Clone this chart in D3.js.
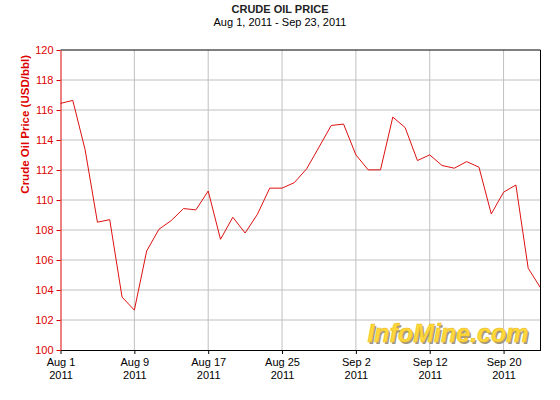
<!DOCTYPE html>
<html>
<head>
<meta charset="utf-8">
<style>
  body { margin: 0; background: #fff; }
  text { font-family: "Liberation Sans", Arial, sans-serif; }
</style>
</head>
<body>
<div id="chart"></div>
<script src="https://cdn.jsdelivr.net/npm/d3@7"></script>
<script>
// trading days, Aug 1 - Sep 23, 2011
var dates = ["Aug 1", "Aug 2", "Aug 3", "Aug 4", "Aug 5", "Aug 8", "Aug 9", "Aug 10", "Aug 11", "Aug 12",
  "Aug 15", "Aug 16", "Aug 17", "Aug 18", "Aug 19", "Aug 22", "Aug 23", "Aug 24", "Aug 25", "Aug 26",
  "Aug 29", "Aug 30", "Aug 31", "Sep 1", "Sep 2", "Sep 5", "Sep 6", "Sep 7", "Sep 8", "Sep 9",
  "Sep 12", "Sep 13", "Sep 14", "Sep 15", "Sep 16", "Sep 19", "Sep 20", "Sep 21", "Sep 22", "Sep 23"];

var prices = [116.44, 116.64, 113.35, 108.52, 108.69, 103.53, 102.66, 106.6, 108.05, 108.63,
  109.43, 109.34, 110.6, 107.38, 108.85, 107.8, 109.05, 110.79, 110.79, 111.16,
  112.08, 113.52, 114.97, 115.06, 113.01, 112.01, 112.01, 115.53, 114.83, 112.63,
  113.01, 112.3, 112.12, 112.56, 112.19, 109.07, 110.52, 111.0, 105.45, 104.15];

var xTickLabels = ["Aug 1", "Aug 9", "Aug 17", "Aug 25", "Sep 2", "Sep 12", "Sep 20"];
var yTicks = [100, 102, 104, 106, 108, 110, 112, 114, 116, 118, 120];

var W = 560, H = 400;
var margin = { top: 50, right: 19.5, bottom: 50, left: 60.5 },
  width = W - margin.left - margin.right,
  height = H - margin.top - margin.bottom;

var svg = d3.select("#chart").append("svg")
  .attr("width", W)
  .attr("height", H);

var g = svg.append("g")
  .attr("transform", "translate(" + margin.left + "," + margin.top + ")");

var x = d3.scalePoint().domain(dates).range([0, width]);
var y = d3.scaleLinear().domain([100, 120]).range([height, 0]);

// grid
g.selectAll(".hgrid").data(yTicks.slice(1, -1)).enter().append("line")
  .attr("x1", 0).attr("x2", width)
  .attr("y1", function(d) { return y(d); })
  .attr("y2", function(d) { return y(d); })
  .style("stroke", "#c0c0c0");

g.selectAll(".vgrid").data(xTickLabels.slice(1)).enter().append("line")
  .attr("x1", function(d) { return x(d); })
  .attr("x2", function(d) { return x(d); })
  .attr("y1", 0).attr("y2", height)
  .style("stroke", "#c0c0c0");

// watermark
var wm = g.append("g").attr("transform", "translate(" + (width - 12) + "," + (height - 8) + ")");
wm.append("text")
  .attr("x", 1.5).attr("y", 1.5)
  .attr("text-anchor", "end")
  .style("font-size", "25px").style("font-weight", "bold").style("font-style", "italic")
  .style("fill", "#a09880")
  .text("InfoMine.com");
wm.append("text")
  .attr("text-anchor", "end")
  .style("font-size", "25px").style("font-weight", "bold").style("font-style", "italic")
  .style("fill", "#ffd83a")
  .style("stroke", "#e8b820").style("stroke-width", 0.5)
  .text("InfoMine.com");

// price line
var line = d3.line()
  .x(function(d, i) { return x(dates[i]); })
  .y(function(d) { return y(d); });

g.append("path")
  .datum(prices)
  .attr("d", line)
  .style("fill", "none")
  .style("stroke", "#dd1111")
  .style("stroke-width", 1);

// frame
g.append("line").attr("x1", 0).attr("x2", width).attr("y1", 0).attr("y2", 0).style("stroke", "#000");
g.append("line").attr("x1", width).attr("x2", width).attr("y1", 0).attr("y2", height).style("stroke", "#000");

// axes
var xAxis = g.append("g")
  .attr("transform", "translate(0," + height + ")")
  .call(d3.axisBottom(x).tickValues(xTickLabels).tickSize(4).tickSizeOuter(0).tickFormat(""));
xAxis.select(".domain").style("stroke", "#000");
xAxis.selectAll(".tick line").style("stroke", "#000");
xAxis.selectAll(".tick").append("text")
  .attr("y", 16).attr("text-anchor", "middle")
  .style("font-size", "11px").style("fill", "#000")
  .text(function(d) { return d; });
xAxis.selectAll(".tick").append("text")
  .attr("y", 28.5).attr("text-anchor", "middle")
  .style("font-size", "11px").style("fill", "#000")
  .text("2011");

var yAxis = g.append("g")
  .call(d3.axisLeft(y).tickValues(yTicks).tickSize(4).tickSizeOuter(0).tickPadding(3));
yAxis.select(".domain").style("stroke", "#dd0000");
yAxis.selectAll(".tick line").style("stroke", "#dd0000");
yAxis.selectAll(".tick text")
  .style("font-family", "Liberation Sans, Arial, sans-serif")
  .style("font-size", "11px").style("fill", "#dd0000");

// y label
svg.append("text")
  .attr("transform", "translate(29,55) rotate(-90)")
  .attr("text-anchor", "end")
  .style("font-size", "11.5px").style("font-weight", "bold").style("fill", "#dd0000")
  .text("Crude Oil Price (USD/bbl)");

// titles
svg.append("text")
  .attr("x", 280).attr("y", 13)
  .attr("text-anchor", "middle")
  .style("font-size", "11px").style("font-weight", "bold").style("fill", "#222")
  .text("CRUDE OIL PRICE");
svg.append("text")
  .attr("x", 280).attr("y", 26)
  .attr("text-anchor", "middle")
  .style("font-size", "11px").style("fill", "#000")
  .text("Aug 1, 2011 - Sep 23, 2011");
</script>
</body>
</html>
